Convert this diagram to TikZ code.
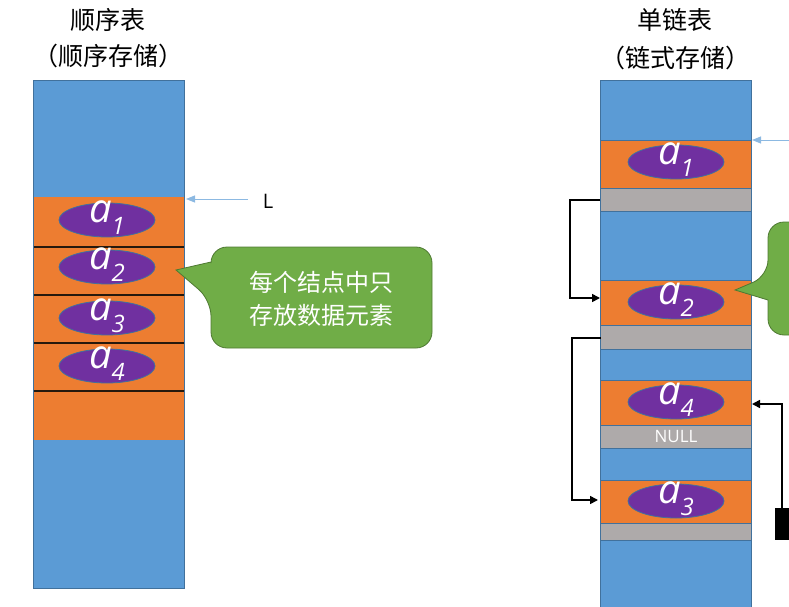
\documentclass[tikz,border=0pt]{standalone}
\usepackage{fontspec}
\setmainfont{Open Sans}
\newfontfamily\cjk{Noto Sans CJK SC}
\usetikzlibrary{arrows.meta,shapes.geometric}
\definecolor{cblue}{HTML}{5B9BD5}
\definecolor{corange}{HTML}{ED7D31}
\definecolor{cpurple}{HTML}{7030A0}
\definecolor{cgrey}{HTML}{AEAAAA}
\definecolor{cgreen}{HTML}{70AD47}
\definecolor{cedge}{HTML}{41719C}
\tikzset{
 blk/.style={fill=#1,draw=cedge,line width=0.8pt},
 elem/.style={ellipse,fill=cpurple,draw=cedge,line width=0.8pt,minimum width=96pt,minimum height=34pt,inner sep=0pt},
 lab/.style={text=white,font=\fontsize{40}{40}\selectfont\itshape},
 title/.style={font=\cjk\fontsize{25}{28}\selectfont},
 link/.style={draw=black,line width=1.6pt,-{Triangle[length=8pt,width=8pt]}},
 ptr/.style={draw=cblue!70,line width=1pt,-{Triangle[length=9pt,width=7pt]}},
}
\newcommand{\el}[3]{\node[elem] (#1) at (#2) {}; \node[lab] at ([yshift=2pt]#1) {$\mathit{a}$\raisebox{-12pt}{\fontsize{24}{24}\selectfont #3}};}
\begin{document}
\begin{tikzpicture}[x=1pt,y=-1pt]
\useasboundingbox (0,0) rectangle (789,607);
% titles
\node[title] (t1) at (108,20) {顺序表};
\node[title] (t2) at (108,56) {（顺序存储）};
\node[title] (t3) at (675,20) {单链表};
\node[title] (t4) at (675,58) {（链式存储）};
% left column
\draw[blk=cblue] (33,80) rectangle (184,588);
\fill[corange] (33,197) rectangle (184,440);
\foreach \y in {247,295,343,391} \draw[line width=1.5pt,black!80!brown] (33,\y) -- (184,\y);
\draw[cedge,line width=0.8pt] (33,80) rectangle (184,588);
\el{l1}{107,220}{1}
\el{l2}{107,267}{2}
\el{l3}{107,318}{3}
\el{l4}{107,366}{4}
\coordinate (ltop) at (186,199);
\node[font=\fontsize{20}{20}\selectfont] (L) at (268,201) {L};
\draw[ptr] (248,199) -- (ltop);
% left callout
\draw[fill=cgreen,draw=cgreen!70!black,line width=0.8pt,rounded corners=16pt]
 (211,247) -- (432,247) -- (432,348) -- (211,348) -- (211,300) [sharp corners]-- (176,270) -- (211,262) [rounded corners=16pt]-- cycle;
\node[font=\cjk\fontsize{24}{33}\selectfont,text=white,align=center] (c1) at (321,299) {每个结点中只\\存放数据元素};
% right column
\draw[blk=cblue] (600,80) rectangle (751,607);
\draw[blk=corange] (600,140) rectangle (751,188);
\draw[blk=cgrey] (600,188) rectangle (751,211);
\draw[blk=corange] (600,280) rectangle (751,325);
\draw[blk=cgrey] (600,325) rectangle (751,349);
\draw[blk=corange] (600,380) rectangle (751,425);
\draw[blk=cgrey] (600,425) rectangle (751,448);
\node[text=white,font=\fontsize{17}{17}\selectfont] (null) at (676,437) {NULL};
\draw[blk=corange] (600,480) rectangle (751,523);
\draw[blk=cgrey] (600,523) rectangle (751,540);
\el{r1}{676,162}{1}
\el{r2}{676,302}{2}
\el{r4}{676,402}{4}
\el{r3}{676,501}{3}
\coordinate (rp) at (789,140);
\draw[ptr] (rp) -- (752,140);
% links
\coordinate (g1) at (600,200);
\coordinate (o2) at (600,298);
\coordinate (g2) at (601,338);
\coordinate (o3) at (598,500);
\coordinate (o4) at (752,404);
\coordinate (bk) at (782,510);
\draw[link] (g1) -| (570,298) -- (o2);
\draw[link] (g2) -| (572,500) -- (o3);
\draw[link] (bk) |- (o4);
\fill[black] (775,508) rectangle (789,540);
% right callout (partial)
\draw[fill=cgreen,draw=cgreen!70!black,line width=0.8pt,rounded corners=16pt]
 (800,222) -- (768,222) -- (768,276) [sharp corners]-- (735,290) -- (768,300) [rounded corners=16pt]-- (768,335) -- (800,335);
\end{tikzpicture}
\end{document}
